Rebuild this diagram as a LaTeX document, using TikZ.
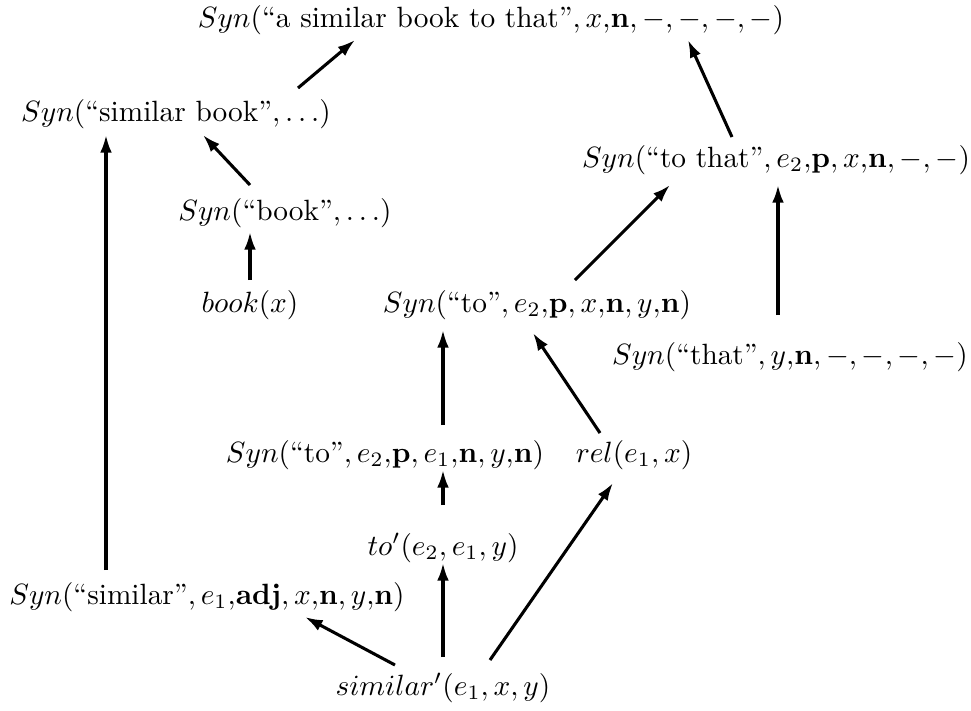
\documentclass[tikz,border=0pt]{standalone}
\usetikzlibrary{arrows.meta,calc}

\tikzstyle{lbl}=[inner sep=1pt, font=\normalsize]
\tikzstyle{aedge}=[line width=1.05pt, -{Latex[length=6pt,width=4pt]}]

\begin{document}
\begin{tikzpicture}[x=0.341pt,y=-0.341pt]
        \useasboundingbox (0,0) rectangle (971,710);
        \draw (491,20)  node[lbl](top){$Syn(\mbox{``a similar book to that''}, x{,}\mathbf{n}, -, -, -, -)$};
        \draw (176,114) node[lbl](simbook){$Syn(\mbox{``similar book''}, \ldots)$};
        \draw (776,160) node[lbl](tothat){$Syn(\mbox{``to that''}, e_2{,}\mathbf{p}, x{,}\mathbf{n}, -, -)$};
        \draw (285,213) node[lbl](book){$Syn(\mbox{``book''}, \ldots)$};
        \draw (250,305) node[lbl](bookx){$book(x)$};
        \draw (537,305) node[lbl](to1){$Syn(\mbox{``to''}, e_2{,}\mathbf{p}, x{,}\mathbf{n}, y{,}\mathbf{n})$};
        \draw (790,357) node[lbl](that){$Syn(\mbox{``that''}, y{,}\mathbf{n}, -, -, -, -)$};
        \draw (385,455) node[lbl](to2){$Syn(\mbox{``to''}, e_2{,}\mathbf{p}, e_1{,}\mathbf{n}, y{,}\mathbf{n})$};
        \draw (634,455) node[lbl](rel){$rel(e_1, x)$};
        \draw (443,548) node[lbl](toprime){$to'(e_2, e_1, y)$};
        \draw (207,597) node[lbl](similar){$Syn(\mbox{``similar''}, e_1{,}\mathbf{adj}, x{,}\mathbf{n}, y{,}\mathbf{n})$};
        \draw (443,688) node[lbl](simprime){$similar'(e_1, x, y)$};
        %
        \path
            ($(simbook)+(122,-26)$)  edge[aedge]  ($(top)+(-136,20)$)
            ($(tothat)+(-44,-23)$)   edge[aedge]  ($(top)+(197,20)$)
            ($(book)+(-35,-28)$)     edge[aedge]  ($(simbook)+(27,21)$)
            ($(bookx)+(0,-25)$)      edge[aedge]  ($(book)+(-35,19)$)
            ($(to1)+(38,-25)$)       edge[aedge]  ($(tothat)+(-106,25)$)
            ($(that)+(-12,-42)$)     edge[aedge]  ($(tothat)+(2,25)$)
            ($(similar)+(-101,-27)$) edge[aedge]  ($(simbook)+(-70,21)$)
            ($(to2)+(58,-30)$)       edge[aedge]  ($(to1)+(-94,25)$)
            ($(rel)+(-34,-22)$)      edge[aedge]  ($(to1)+(-4,28)$)
            ($(toprime)+(0,-43)$)    edge[aedge]  ($(to2)+(58,15)$)
            ($(simprime)+(0,-31)$)   edge[aedge]  ($(toprime)+(0,15)$)
            ($(simprime)+(-48,-23)$) edge[aedge]  ($(similar)+(98,20)$)
            ($(simprime)+(47,-28)$)  edge[aedge]  ($(rel)+(-21,28)$)
        ;
\end{tikzpicture}
\end{document}
